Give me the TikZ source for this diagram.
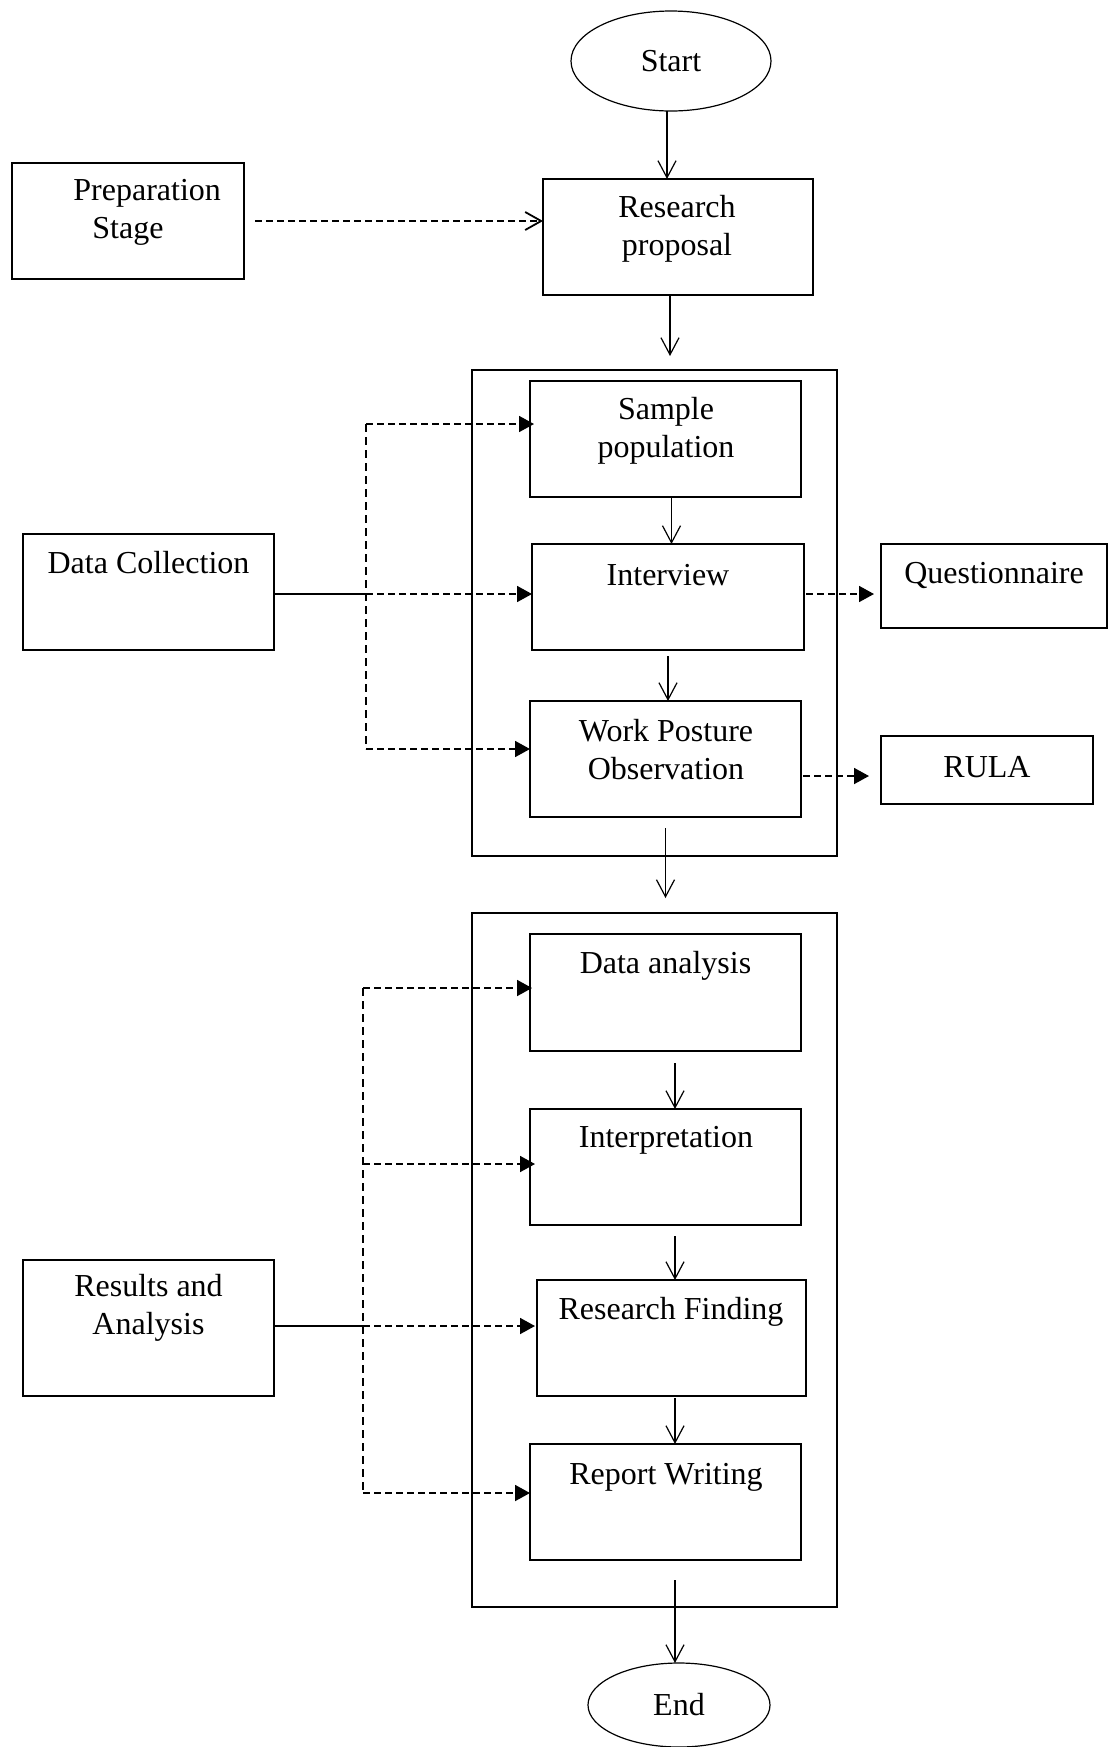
\documentclass[tikz,border=0pt]{standalone}
\usepackage{fontspec}
\setmainfont{Liberation Serif}
\usetikzlibrary{arrows.meta,shapes.geometric,calc}
\newcommand{\fsz}{\fontsize{16}{19}\selectfont}
\begin{document}
\begin{tikzpicture}[x=0.5pt,y=-0.5pt,
  box/.style={draw, line width=0.6pt, inner sep=0pt, outer sep=0pt},
  frame/.style={draw, line width=1pt, inner sep=0pt, outer sep=0pt},
  oval/.style={draw, ellipse, line width=0.6pt, inner sep=0pt, outer sep=0pt, font=\fsz},
  lbl/.style={font=\fsz, align=center, inner sep=0pt},
  arr/.style={-{Straight Barb[length=8.5pt,width=9pt]}, line width=0.6pt},
  oarr/.style={-{Straight Barb[length=8pt,width=9pt]}, line width=0.9pt, dash pattern=on 3.5pt off 2pt},
  darr/.style={-{Triangle[length=7.5pt,width=8pt]}, line width=0.9pt, dash pattern=on 3.5pt off 2pt},
  dline/.style={line width=0.6pt, dash pattern=on 4pt off 2.5pt},
  sline/.style={line width=0.9pt}]
\path[use as bounding box] (0,0) rectangle (1109,1747);

% top
\node[oval, minimum width=100pt, minimum height=50pt] (start) at (671,61) {Start};
\node[box, minimum width=116pt, minimum height=58pt] (prep) at (128,221) {};
\node[lbl, align=left, anchor=west] (prepT) at (73,212) {Preparation\\\hspace*{9.5pt}Stage};
\node[box, minimum width=135pt, minimum height=58pt] (rp) at (678,237) {};
\node[lbl] (rpT) at (677,229) {Research\\proposal};

% frame 1
\node[frame, minimum width=182.5pt, minimum height=243pt] (f1) at (654.5,613) {};
\node[box, minimum width=135.5pt, minimum height=58pt] (sample) at (665.5,439) {};
\node[lbl] (sampleT) at (666,431) {Sample\\population};
\node[box, minimum width=136pt, minimum height=53pt] (interview) at (668,597) {};
\node[lbl] (interviewT) at (668,575) {Interview};
\node[box, minimum width=135.5pt, minimum height=58pt] (wpo) at (665.5,759) {};
\node[lbl] (wpoT) at (666,750) {Work Posture\\Observation};
\node[box, minimum width=113pt, minimum height=42pt] (quest) at (994,586) {};
\node[lbl] (questT) at (994,575) {Questionnaire};
\node[box, minimum width=106pt, minimum height=34pt] (rula) at (987,770) {};
\node[lbl] (rulaT) at (987,767) {RULA};
\node[box, minimum width=125.5pt, minimum height=58pt] (dc) at (148.5,592) {};
\node[lbl] (dcT) at (148.5,563) {Data Collection};

% frame 2
\node[frame, minimum width=182.5pt, minimum height=347pt] (f2) at (654.5,1260) {};
\node[box, minimum width=135.5pt, minimum height=58.5pt] (da) at (665.5,992.5) {};
\node[lbl] (daT) at (665.5,966) {Data analysis};
\node[box, minimum width=135.5pt, minimum height=58pt] (interp) at (665.5,1167) {};
\node[lbl] (interpT) at (666,1140) {Interpretation};
\node[box, minimum width=134.5pt, minimum height=58pt] (rf) at (671.5,1338) {};
\node[lbl] (rfT) at (671,1312) {Research Finding};
\node[box, minimum width=135.5pt, minimum height=58pt] (rw) at (665.5,1502) {};
\node[lbl] (rwT) at (666,1477) {Report Writing};
\node[box, minimum width=125.5pt, minimum height=68pt] (res) at (148.5,1328) {};
\node[lbl] (resT) at (148.5,1308) {Results and\\Analysis};
\node[oval, minimum width=91pt, minimum height=42pt] (end) at (679,1705) {End};

% main flow
\draw[arr] ([xshift=-2pt]start.south) -- ([xshift=-2pt]start.south |- rp.north);
\draw[oarr, shorten <=5.5pt] (prep.east) -- (prep.east -| rp.west);
\draw[arr, shorten >=7pt] ([xshift=-4pt]rp.south) -- ([xshift=-4pt]rp.south |- f1.north);
\draw[arr] ([xshift=3pt]sample.south) -- ([xshift=3pt]sample.south |- interview.north);
\draw[arr, shorten <=3pt] (interview.south) -- (interview.south |- wpo.north);
\draw[arr, shorten <=5.5pt, shorten >=7.5pt] (wpo.south) -- (wpo.south |- f2.north);
\draw[arr, shorten <=6pt] ([xshift=4.75pt]da.south) -- ([xshift=4.75pt]da.south |- interp.north);
\draw[arr, shorten <=5.5pt] ([xshift=4.75pt]interp.south) -- ([xshift=4.75pt]interp.south |- rf.north);
\draw[arr, shorten <=1pt] ([xshift=1.75pt]rf.south) -- ([xshift=1.75pt]rf.south |- rw.north);
\draw[arr, shorten <=10pt] ([xshift=4.75pt]rw.south) -- ([xshift=4.75pt]rw.south |- end.north);

% data collection links
\coordinate (dcbus) at ($([yshift=-1pt]dc.east)+(92,0)$);
\draw[sline] ([yshift=-1pt]dc.east) -- (dcbus);
\draw[darr] (dcbus) -- (dcbus -| interview.west);
\draw[dline] ([yshift=7.5pt]sample.west -| dcbus) -- ([yshift=5pt]wpo.west -| dcbus);
\draw[darr, shorten >=-2pt] ([yshift=7.5pt]sample.west -| dcbus) -- ([yshift=7.5pt]sample.west);
\draw[darr] ([yshift=5pt]wpo.west -| dcbus) -- ([yshift=5pt]wpo.west);
\draw[darr, shorten <=1pt, shorten >=3.5pt] ([yshift=1.5pt]interview.east) -- ([yshift=1.5pt]interview.east -| quest.west);
\draw[darr, shorten <=1pt, shorten >=6pt] ([yshift=-8.5pt]wpo.east) -- ([yshift=-8.5pt]wpo.east -| rula.west);

% results links
\coordinate (rbus) at ($([yshift=1pt]res.east)+(89,0)$);
\draw[sline] ([yshift=1pt]res.east) -- (rbus);
\draw[darr, shorten >=1pt] (rbus) -- (rbus -| rf.west);
\draw[dline] ([yshift=2.25pt]da.west -| rbus) -- ([yshift=4.5pt]rw.west -| rbus);
\draw[darr, shorten >=-1pt] ([yshift=2.25pt]da.west -| rbus) -- ([yshift=2.25pt]da.west);
\draw[darr, shorten >=-2.5pt] ([yshift=1.5pt]interp.west -| rbus) -- ([yshift=1.5pt]interp.west);
\draw[darr] ([yshift=4.5pt]rw.west -| rbus) -- ([yshift=4.5pt]rw.west);
\end{tikzpicture}
\end{document}
